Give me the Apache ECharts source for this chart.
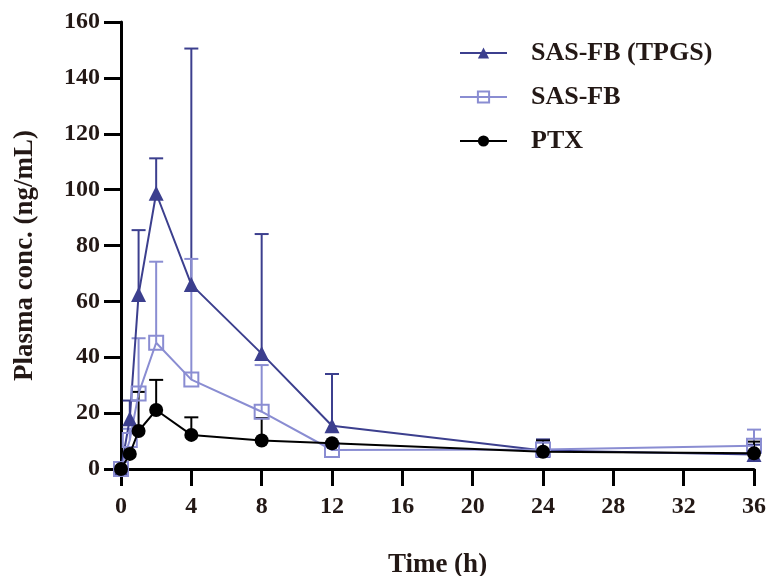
<!DOCTYPE html>
<html>
<head>
<meta charset="utf-8">
<script src="https://cdn.jsdelivr.net/npm/echarts@6/dist/echarts.min.js"></script>
<style>html,body{margin:0;padding:0;background:#fff;}#c{width:766px;height:576px;}</style>
</head>
<body>
<div id="c"></div>
<script>
const times = [0, 0.5, 1, 2, 4, 8, 12, 24, 36];
const tpgs   = [0, 18, 62.5, 98.7, 66, 41.3, 15.5, 6.6, 5.2];
const tpgsSD = [0, 6.5, 23, 12.5, 84.5, 42.8, 18.5, 4, 3.5];
const sasfb   = [0, 10.4, 27, 45.2, 32, 20.5, 6.8, 7, 8.3];
const sasfbSD = [0, 4, 19.8, 29, 43.2, 16.7, 0, 2.5, 5.8];
const ptx   = [0, 5.4, 13.6, 21.1, 12.2, 10.2, 9.2, 6.2, 5.6];
const ptxSD = [0, 0, 14, 10.8, 6.3, 8, 0, 4, 4.2];
const xTicks = [0, 4, 8, 12, 16, 20, 24, 28, 32, 36];
const yTicks = [0, 20, 40, 60, 80, 100, 120, 140, 160];

const C_TPGS = '#3c3f8e';
const C_SAS = '#8a8dd2';
const C_PTX = '#000000';
const FONT = 'Liberation Serif';
const TXT = '#231815';

function pairs(ys) { return times.map((t, i) => [t, ys[i]]); }
function errData(ys, sd) { return times.map((t, i) => [t, ys[i], ys[i] + sd[i]]); }
function errSeries(name, ys, sd, color, z) {
  return {
    type: 'custom', name: name + '_err', z: z, silent: true,
    data: errData(ys, sd),
    renderItem: function (params, api) {
      const x = api.value(0), y = api.value(1), top = api.value(2);
      if (top <= y) return null;
      const p0 = api.coord([x, y]);
      const p1 = api.coord([x, top]);
      const hw = 7;
      return {
        type: 'group',
        children: [
          { type: 'line', shape: { x1: p0[0], y1: p0[1], x2: p1[0], y2: p1[1] }, style: { stroke: color, lineWidth: 2 } },
          { type: 'line', shape: { x1: p1[0] - hw, y1: p1[1], x2: p1[0] + hw, y2: p1[1] }, style: { stroke: color, lineWidth: 2 } }
        ]
      };
    }
  };
}

const chart = echarts.init(document.getElementById('c'), null, { renderer: 'canvas' });
chart.setOption({
  animation: false,
  backgroundColor: '#ffffff',
  grid: { left: 121, right: 12, top: 22, bottom: 107, containLabel: false, outerBoundsMode: 'none' },
  legend: {
    left: 459, top: 40, orient: 'vertical', itemWidth: 47, itemHeight: 14, itemGap: 18, padding: 0,
    data: ['SAS-FB (TPGS)', 'SAS-FB', 'PTX'],
    textStyle: { fontFamily: FONT, fontWeight: 'bold', fontSize: 26, lineHeight: 26, color: TXT, padding: [0, 0, 0, 19] }
  },
  xAxis: {
    type: 'value', min: 0, max: 36, interval: 4,
    name: 'Time (h)', nameLocation: 'middle', nameGap: 83,
    nameTextStyle: { fontFamily: FONT, fontWeight: 'bold', fontSize: 27, color: TXT },
    axisLine: { show: true, lineStyle: { color: '#000', width: 3 } },
    axisTick: { show: true, length: 17, lineStyle: { color: '#000', width: 3 } },
    axisLabel: { fontFamily: FONT, fontWeight: 'bold', fontSize: 24, color: TXT, margin: 26,
      formatter: v => xTicks.includes(v) ? String(v) : '' },
    splitLine: { show: false }
  },
  yAxis: {
    type: 'value', min: 0, max: 160, interval: 20,
    name: 'Plasma conc. (ng/mL)', nameLocation: 'middle', nameGap: 82, nameRotate: 90,
    nameTextStyle: { fontFamily: FONT, fontWeight: 'bold', fontSize: 27, color: TXT, padding: [0, 20, 0, 0] },
    axisLine: { show: true, lineStyle: { color: '#000', width: 3 } },
    axisTick: { show: true, length: 17, lineStyle: { color: '#000', width: 3 } },
    axisLabel: { fontFamily: FONT, fontWeight: 'bold', fontSize: 24, color: TXT, margin: 21,
      formatter: v => yTicks.includes(v) ? String(v) : '' },
    splitLine: { show: false }
  },
  series: [
    errSeries('SAS-FB (TPGS)', tpgs, tpgsSD, C_TPGS, 2),
    errSeries('SAS-FB', sasfb, sasfbSD, C_SAS, 2),
    errSeries('PTX', ptx, ptxSD, C_PTX, 2),
    {
      name: 'SAS-FB (TPGS)', type: 'line', data: pairs(tpgs), z: 3,
      symbol: 'triangle', symbolSize: 15,
      lineStyle: { color: C_TPGS, width: 2 },
      itemStyle: { color: C_TPGS }
    },
    {
      name: 'SAS-FB', type: 'line', data: pairs(sasfb), z: 3,
      symbol: 'rect', symbolSize: 14,
      lineStyle: { color: C_SAS, width: 2 },
      itemStyle: { color: 'rgba(255,255,255,0)', borderColor: C_SAS, borderWidth: 2 }
    },
    {
      name: 'PTX', type: 'line', data: pairs(ptx), z: 4,
      symbol: 'circle', symbolSize: 14,
      lineStyle: { color: C_PTX, width: 2 },
      itemStyle: { color: C_PTX }
    }
  ]
});
</script>
</body>
</html>
